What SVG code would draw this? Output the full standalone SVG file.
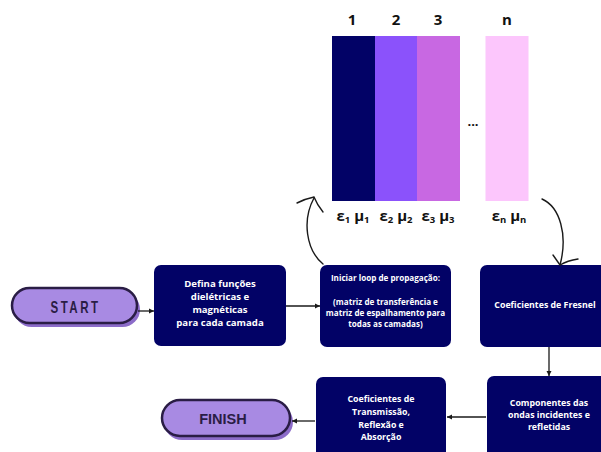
<svg xmlns="http://www.w3.org/2000/svg" width="601" height="452" viewBox="0 0 601 452">
<defs>
<style>
.box{fill:#020266;}
.bt{fill:#ffffff;font-family:"Open Sans","DejaVu Sans",sans-serif;font-weight:bold;text-anchor:middle;}
.pill{fill:#a88ae3;stroke:#2a1d45;stroke-width:2.5;}
.shadow{fill:#8c6cc9;}
.conn{stroke:#1a1a1a;stroke-width:1.3;fill:none;}
.curve{stroke:#1a1a1a;stroke-width:1.4;fill:none;stroke-linecap:round;}
.num{font-family:"Open Sans","DejaVu Sans",sans-serif;font-weight:bold;font-size:15px;fill:#111;text-anchor:middle;}
.em{font-family:"Open Sans","DejaVu Sans",sans-serif;font-weight:bold;font-size:15px;fill:#111;text-anchor:middle;}
</style>
<marker id="ah" markerWidth="6" markerHeight="6" refX="5" refY="3" orient="auto" markerUnits="userSpaceOnUse">
<path d="M0,0.5 L5,3 L0,5.5 Z" fill="#1a1a1a"/>
</marker>
</defs>
<rect width="601" height="452" fill="#ffffff"/>

<g id="layers">
<rect x="332" y="36" width="43" height="165" fill="#020266"/>
<rect x="375" y="36" width="42" height="165" fill="#8b52fb"/>
<rect x="417" y="36" width="43" height="165" fill="#c868e2"/>
<rect x="485.5" y="36" width="43" height="165" fill="#fcc6fc"/>
<text class="num" x="352" y="25">1</text>
<text class="num" x="396" y="25">2</text>
<text class="num" x="438" y="25">3</text>
<text class="num" x="507" y="25">n</text>
<text x="473" y="126" font-family="Open Sans, sans-serif" font-weight="bold" font-size="13" fill="#111" text-anchor="middle">...</text>
<text class="em" x="353" y="221">ε<tspan font-size="9.5" dy="2">1</tspan><tspan dy="-2"> μ</tspan><tspan font-size="9.5" dy="2">1</tspan></text>
<text class="em" x="396" y="221">ε<tspan font-size="9.5" dy="2">2</tspan><tspan dy="-2"> μ</tspan><tspan font-size="9.5" dy="2">2</tspan></text>
<text class="em" x="438" y="221">ε<tspan font-size="9.5" dy="2">3</tspan><tspan dy="-2"> μ</tspan><tspan font-size="9.5" dy="2">3</tspan></text>
<text class="em" x="509" y="221">ε<tspan font-size="9.5" dy="2">n</tspan><tspan dy="-2"> μ</tspan><tspan font-size="9.5" dy="2">n</tspan></text>
</g>

<g id="start">
<rect class="shadow" x="14" y="292" width="126" height="35" rx="17.5"/>
<rect class="pill" x="12" y="288" width="125" height="35" rx="17.5"/>
<text transform="translate(75.5,312.5) scale(0.7,1)" x="0" y="0" font-family="Liberation Sans, Arial, sans-serif" font-weight="bold" font-size="16.5" letter-spacing="3.5" fill="#2a1d45" text-anchor="middle">START</text>
</g>

<g id="n1">
<rect class="box" x="154" y="265" width="132" height="81" rx="7"/>
<text class="bt" font-size="9.6"><tspan x="220" y="287">Defina funções</tspan><tspan x="220" y="300">dielétricas e</tspan><tspan x="220" y="313">magnéticas</tspan><tspan x="220" y="326">para cada camada</tspan></text>
</g>

<g id="n2">
<rect class="box" x="320" y="265" width="131" height="82" rx="7"/>
<text class="bt" font-size="8.1"><tspan x="385.5" y="281">Iniciar loop de propagação:</tspan><tspan x="385.5" y="305">(matriz de transferência e</tspan><tspan x="385.5" y="316">matriz de espalhamento para</tspan><tspan x="385.5" y="327">todas as camadas)</tspan></text>
</g>

<g id="n3">
<rect class="box" x="480" y="265" width="130" height="82" rx="7"/>
<text class="bt" font-size="8.8" x="545" y="308">Coeficientes de Fresnel</text>
</g>

<g id="n4">
<rect class="box" x="487" y="376" width="130" height="82" rx="7"/>
<text class="bt" font-size="8.8"><tspan x="549" y="406">Componentes das</tspan><tspan x="549" y="418">ondas incidentes e</tspan><tspan x="549" y="430">refletidas</tspan></text>
</g>

<g id="n5">
<rect class="box" x="316" y="377" width="130" height="82" rx="7"/>
<text class="bt" font-size="8.8"><tspan x="381" y="402">Coeficientes de</tspan><tspan x="381" y="415">Transmissão,</tspan><tspan x="381" y="427.5">Reflexão e</tspan><tspan x="381" y="440">Absorção</tspan></text>
</g>

<g id="finish">
<rect class="shadow" x="164" y="404" width="129" height="36" rx="18"/>
<rect class="pill" x="162" y="400" width="128" height="36" rx="18"/>
<text x="223" y="424" font-family="Liberation Sans, Arial, sans-serif" font-weight="bold" font-size="14.5" fill="#2a1d45" text-anchor="middle">FINISH</text>
</g>

<g id="connectors">
<line class="conn" x1="138" y1="311" x2="154" y2="311" marker-end="url(#ah)"/>
<line class="conn" x1="286" y1="306" x2="320" y2="306" marker-end="url(#ah)"/>
<line class="conn" x1="549" y1="347" x2="549" y2="376" marker-end="url(#ah)"/>
<line class="conn" x1="486" y1="417" x2="447" y2="417" marker-end="url(#ah)"/>
<line class="conn" x1="315" y1="421" x2="292" y2="421" marker-end="url(#ah)"/>
<path class="curve" d="M323,264 C306,250 302,220 314,198"/>
<path class="curve" d="M297,203 C303,200 309,198 314,197 C316,202 319,207 323,212"/>
<path class="curve" d="M542,199 C560,207 568,235 560,265"/>
<path class="curve" d="M553,255 L560,265 C565,262 571,260 578,259"/>
</g>
</svg>
